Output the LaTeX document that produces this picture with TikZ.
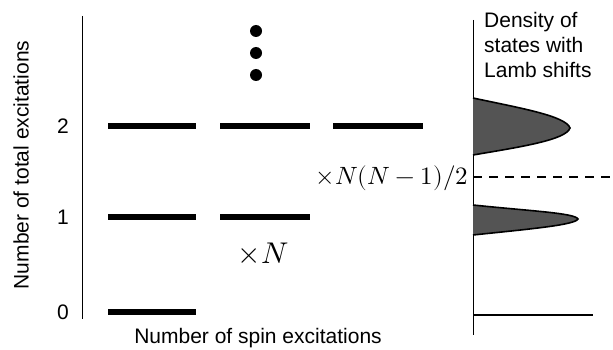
\documentclass[tikz,border=0pt]{standalone}
\usepackage{fontspec}
\setmainfont{Liberation Sans}
\usepackage{unicode-math}
\setmathfont{Latin Modern Math}
\begin{document}
\begin{tikzpicture}[x=1pt,y=-1pt,
  level/.style={line width=5.5pt},
  axis/.style={line width=1pt},
  lab/.style={font=\fontsize{21}{25}\selectfont, inner sep=0pt},
  num/.style={font=\fontsize{21}{24}\selectfont, inner sep=0pt},
  peak/.style={draw=black, line width=1.6pt, fill=black!67}]
\useasboundingbox (0,0) rectangle (613,350);
% left axis
\coordinate (la1) at (82,16);
\coordinate (la2) at (82,319);
\draw[axis] (la1) -- (la2);
\node[num] (n2) at (63,126) {2};
\node[num] (n1) at (63,217) {1};
\node[num] (n0) at (63,312) {0};
\node[lab, rotate=90] (ylab) at (21,165) {Number of total excitations};
\node[lab] (xlab) at (258,338) {Number of spin excitations};
% levels
\coordinate (a0) at (108,312); \coordinate (b0) at (196,312);
\draw[level] (a0) -- (b0);
\coordinate (a1) at (108,217); \coordinate (b1) at (196,217);
\draw[level] (a1) -- (b1);
\coordinate (c1) at (220,217); \coordinate (d1) at (310,217);
\draw[level] (c1) -- (d1);
\coordinate (a2) at (108,126); \coordinate (b2) at (196,126);
\draw[level] (a2) -- (b2);
\coordinate (c2) at (220,126); \coordinate (d2) at (310,126);
\draw[level] (c2) -- (d2);
\coordinate (e2) at (333,126); \coordinate (f2) at (423,126);
\draw[level] (e2) -- (f2);
% dots
\fill (256,31) circle (6);
\fill (256,53) circle (6);
\fill (256,75) circle (6);
% multiplicities
\node[font=\fontsize{30}{34}\selectfont, inner sep=0pt] (xN) at (263,253) {$\times N$};
\node[font=\fontsize{25}{30}\selectfont, inner sep=0pt] (xNN) at (392,178) {$\times N(N-1)/2$};
% right axis
\coordinate (ra1) at (473,20);
\coordinate (ra2) at (473,335);
\draw[axis] (ra1) -- (ra2);
\coordinate (base2) at (593,315);
\draw[line width=1.6pt] (473,315) -- (base2);
\coordinate (dashend) at (613,177);
\draw[line width=1.6pt, dash pattern=on 9pt off 7pt] (473,177) -- (dashend);
\draw[peak] (473,98) .. controls (520,108) and (566,116) .. (570,128)
  .. controls (566,140) and (520,147) .. (473,155);
\draw[peak] (473,205) .. controls (530,211) and (575,213) .. (578,219)
  .. controls (575,225) and (530,229) .. (473,235);
\node[lab, anchor=base west] (dos1) at (484,28) {Density of};
\node[lab, anchor=base west] (dos2) at (484,53) {states with};
\node[lab, anchor=base west] (dos3) at (484,78) {Lamb shifts};
\end{tikzpicture}
\end{document}
